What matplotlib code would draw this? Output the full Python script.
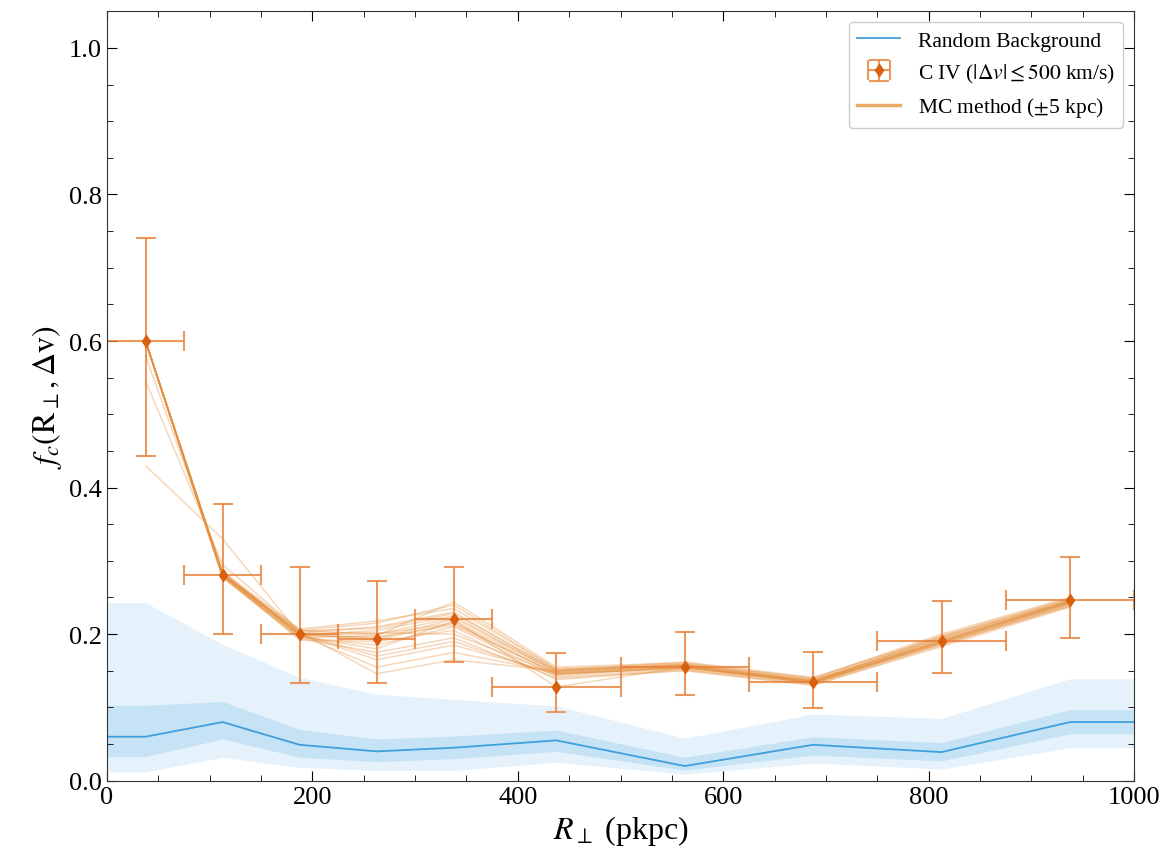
import numpy as np
import matplotlib
matplotlib.use("Agg")
import matplotlib.pyplot as plt
from matplotlib.ticker import MultipleLocator

# C IV covering fraction per R_perp bin
r_cen = [37.5, 112.5, 187.5, 262.5, 337.5, 437.5, 562.5, 687.5, 812.5, 937.5]
r_half = [37.5, 37.5, 37.5, 37.5, 37.5, 62.5, 62.5, 62.5, 62.5, 62.5]
fc = [0.600, 0.281, 0.200, 0.194, 0.220, 0.128, 0.155, 0.134, 0.191, 0.246]
fc_lo = [0.157, 0.081, 0.067, 0.061, 0.058, 0.034, 0.038, 0.035, 0.044, 0.051]
fc_hi = [0.140, 0.096, 0.091, 0.079, 0.071, 0.046, 0.048, 0.041, 0.054, 0.059]

# MC realisations (positions jittered by +-5 kpc)
mc_runs = [
    [0.600, 0.281, 0.200, 0.194, 0.220, 0.128, 0.155, 0.134, 0.191, 0.246],
    [0.600, 0.281, 0.200, 0.200, 0.215, 0.145, 0.155, 0.134, 0.190, 0.245],
    [0.600, 0.280, 0.198, 0.205, 0.225, 0.148, 0.158, 0.136, 0.193, 0.244],
    [0.600, 0.283, 0.202, 0.210, 0.230, 0.150, 0.160, 0.138, 0.195, 0.248],
    [0.600, 0.279, 0.196, 0.185, 0.210, 0.142, 0.152, 0.132, 0.188, 0.242],
    [0.600, 0.282, 0.205, 0.215, 0.240, 0.152, 0.157, 0.135, 0.197, 0.247],
    [0.600, 0.278, 0.194, 0.175, 0.195, 0.140, 0.150, 0.130, 0.185, 0.240],
    [0.600, 0.284, 0.200, 0.165, 0.185, 0.146, 0.154, 0.137, 0.192, 0.244],
    [0.600, 0.280, 0.199, 0.155, 0.175, 0.148, 0.156, 0.133, 0.186, 0.238],
    [0.600, 0.281, 0.203, 0.146, 0.165, 0.150, 0.158, 0.136, 0.189, 0.243],
    [0.600, 0.277, 0.195, 0.198, 0.244, 0.155, 0.161, 0.139, 0.198, 0.249],
    [0.600, 0.285, 0.207, 0.218, 0.235, 0.153, 0.159, 0.140, 0.200, 0.250],
    [0.600, 0.279, 0.192, 0.190, 0.205, 0.138, 0.151, 0.131, 0.183, 0.237],
    [0.600, 0.282, 0.201, 0.202, 0.200, 0.146, 0.153, 0.134, 0.188, 0.241],
    [0.600, 0.280, 0.197, 0.180, 0.218, 0.149, 0.157, 0.137, 0.194, 0.246],
    [0.600, 0.283, 0.204, 0.208, 0.228, 0.151, 0.162, 0.141, 0.196, 0.245],
    [0.600, 0.281, 0.200, 0.170, 0.190, 0.144, 0.155, 0.135, 0.190, 0.243],
    [0.580, 0.286, 0.198, 0.196, 0.212, 0.147, 0.156, 0.133, 0.187, 0.239],
    [0.546, 0.295, 0.205, 0.200, 0.222, 0.150, 0.158, 0.136, 0.191, 0.244],
    [0.430, 0.330, 0.200, 0.192, 0.215, 0.146, 0.154, 0.134, 0.189, 0.242],
]

# random background: median, 1-sigma and 2-sigma envelopes
bg_r = [0, 37.5, 112.5, 187.5, 262.5, 337.5, 437.5, 562.5, 687.5, 812.5, 937.5, 1000]
bg_med = [0.060, 0.060, 0.080, 0.049, 0.040, 0.045, 0.055, 0.020, 0.049, 0.039, 0.080, 0.080]
bg_1lo = [0.033, 0.033, 0.057, 0.032, 0.026, 0.030, 0.040, 0.0145, 0.035, 0.027, 0.064, 0.064]
bg_1hi = [0.103, 0.103, 0.108, 0.070, 0.057, 0.061, 0.069, 0.032, 0.060, 0.052, 0.097, 0.097]
bg_2lo = [0.012, 0.012, 0.032, 0.018, 0.014, 0.014, 0.025, 0.009, 0.024, 0.016, 0.045, 0.045]
bg_2hi = [0.243, 0.243, 0.186, 0.141, 0.118, 0.111, 0.102, 0.058, 0.091, 0.085, 0.139, 0.139]

plt.rcParams['font.family'] = ['Liberation Serif', 'DejaVu Serif']
plt.rcParams['mathtext.fontset'] = 'stix'

fig = plt.figure(figsize=(11.68, 8.53), dpi=100)
ax = fig.add_axes([0.0916, 0.0836, 0.8794, 0.902])

blue = '#3f9fdc'
ax.fill_between(bg_r, bg_2lo, bg_2hi, color='#e6f2fb', lw=0)
ax.fill_between(bg_r, bg_1lo, bg_1hi, color='#c6e2f5', lw=0)
ax.plot(bg_r, bg_med, color=blue, lw=1.3, label='Random Background')

for i, run in enumerate(mc_runs):
    ax.plot(r_cen, run, color='#e5913f', lw=1.1, alpha=0.35,
            label=r'MC method ($\pm$5 kpc)' if i == 0 else None)

eb = ax.errorbar(r_cen, fc, yerr=[fc_lo, fc_hi], xerr=r_half, fmt='d',
                 color='#d9600c', ms=6, ecolor=(0.91, 0.50, 0.22, 0.8),
                 elinewidth=1.5, capsize=7, capthick=1.5,
                 label=r'C IV ($|\Delta v| \leq 500$ km/s)')

ax.set_xlim(0, 1000)
ax.set_ylim(0, 1.05)
ax.xaxis.set_major_locator(MultipleLocator(200))
ax.xaxis.set_minor_locator(MultipleLocator(50))
ax.yaxis.set_major_locator(MultipleLocator(0.2))
ax.yaxis.set_minor_locator(MultipleLocator(0.05))
ax.tick_params(which='both', direction='in', top=True, right=True, labelsize=19)
ax.tick_params(which='major', length=7)
ax.tick_params(which='minor', length=4)
for s in ax.spines.values():
    s.set_color('#333333')

ax.set_xlabel(r'$R_\perp$ (pkpc)', fontsize=23)
ax.set_ylabel(r'$f_c(\mathrm{R}_\perp, \Delta \mathrm{v})$', fontsize=23)

h, l = ax.get_legend_handles_labels()
order = [l.index('Random Background'), l.index(r'C IV ($|\Delta v| \leq 500$ km/s)'),
         l.index(r'MC method ($\pm$5 kpc)')]
leg = ax.legend([h[i] for i in order], [l[i] for i in order], loc='upper right',
                fontsize=15.5, frameon=True, fancybox=True, framealpha=1,
                edgecolor='#cccccc')
leg.legend_handles[2].set_alpha(0.8)
leg.legend_handles[2].set_linewidth(2.5)

fig.savefig('out.png', dpi=100)
